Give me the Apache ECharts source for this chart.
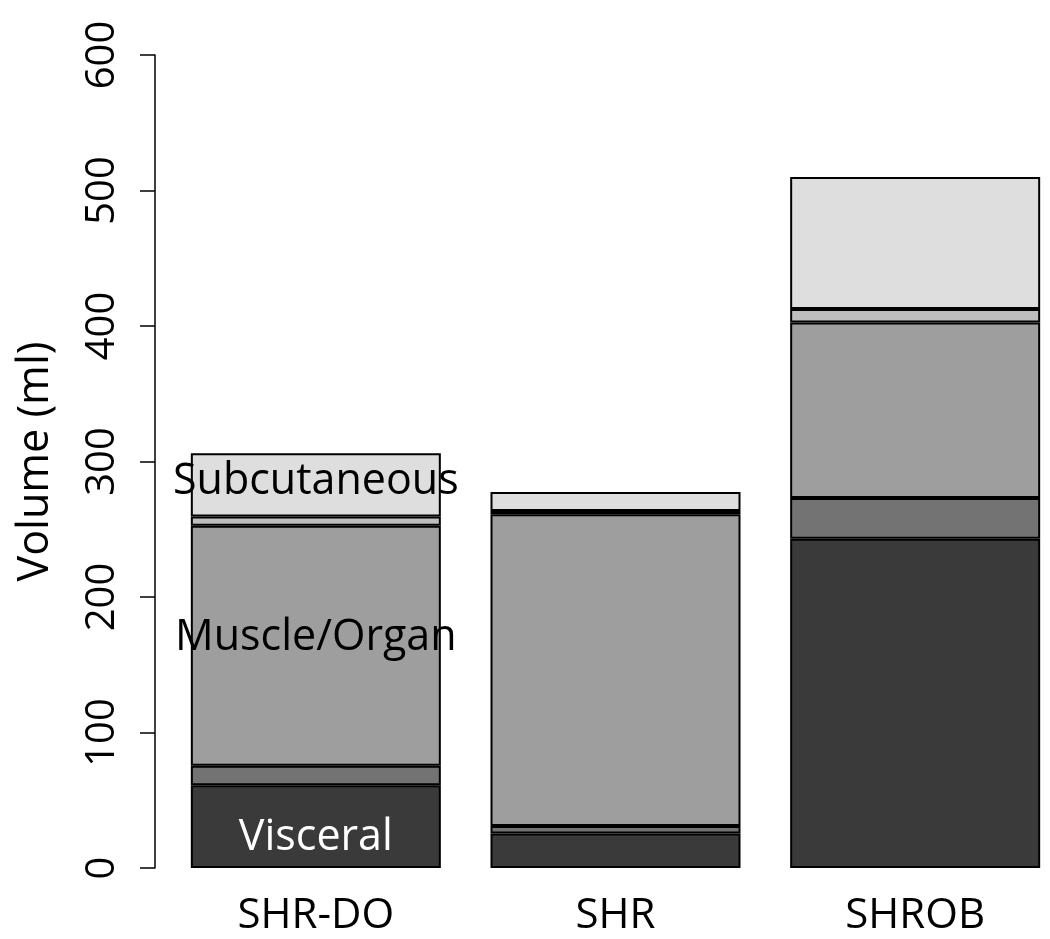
<!DOCTYPE html>
<html>
<head>
<meta charset="utf-8">
<script src="https://cdn.jsdelivr.net/npm/echarts@6/dist/echarts.min.js"></script>
<style>
  html, body { margin: 0; padding: 0; background: #fff; overflow: hidden; }
  /* 比窗口略宽，让最右一根柱子贴近边缘 */
  #volumeChart { width: 1080px; height: 939px; }
</style>
</head>
<body>
<div id="volumeChart"></div>
<script>
/* 分组 */
var groups = ['SHR-DO', 'SHR', 'SHROB'];

/* 各层体积 (ml)，自下而上 */
var visceral = [61, 25.5, 243];
var layer2 = [14.5, 5.5, 30];
var muscleOrgan = [177, 230, 129.5];
var layer4 = [7, 2.5, 10];
var subcutaneous = [46.5, 14, 97.5];

/* y 轴刻度 */
var yTicks = [0, 100, 200, 300, 400, 500, 600];

var fontName = '"Open Sans", "DejaVu Sans", sans-serif';

/* 只在第一组柱子上写层名 */
function labelled(values, text, color, offsetY) {
    return values.map(function (v, i) {
        if (i !== 0) return v;
        return {
            value: v,
            label: {
                show: true,
                position: 'inside',
                formatter: text,
                color: color,
                fontSize: 43,
                fontFamily: fontName,
                offset: [0, offsetY]
            }
        };
    });
}

function layer(name, color, data) {
    return {
        name: name,
        type: 'bar',
        stack: 'vol',
        barWidth: 250,
        data: data,
        itemStyle: {
            color: color,
            borderColor: '#000',
            borderWidth: 2
        }
    };
}

var volumeChart = echarts.init(document.getElementById('volumeChart'));
var option = {
    backgroundColor: '#fff',
    animation: false,
    grid: {
        left: 166,
        top: 55,
        width: 899,
        bottom: 71
    },
    xAxis: {
        type: 'category',
        data: groups,
        axisLine: { show: false },
        axisTick: { show: false },
        axisLabel: {
            color: '#000',
            fontSize: 42,
            fontFamily: fontName,
            margin: 27
        }
    },
    yAxis: {
        type: 'value',
        min: yTicks[0],
        max: yTicks[yTicks.length - 1],
        interval: 100,
        offset: 11,
        name: 'Volume (ml)',
        nameLocation: 'middle',
        nameGap: 98,
        nameTextStyle: {
            color: '#000',
            fontSize: 43,
            fontFamily: fontName
        },
        splitLine: { show: false },
        axisLine: { show: true, lineStyle: { color: '#000', width: 1.5 } },
        axisTick: { show: true, length: 15, lineStyle: { color: '#000', width: 1.5 } },
        axisLabel: {
            color: '#000',
            fontSize: 40,
            fontFamily: fontName,
            rotate: 90,
            margin: 32
        }
    },
    series: [
        layer('Visceral', '#3a3a3a', labelled(visceral, 'Visceral', '#fff', 11)),
        layer('Layer 2', '#737373', layer2),
        layer('Muscle/Organ', '#9e9e9e', labelled(muscleOrgan, 'Muscle/Organ', '#000', -8)),
        layer('Layer 4', '#bebebe', layer4),
        layer('Subcutaneous', '#dedede', labelled(subcutaneous, 'Subcutaneous', '#000', -3))
    ]
};
volumeChart.setOption(option, true);
</script>
</body>
</html>
